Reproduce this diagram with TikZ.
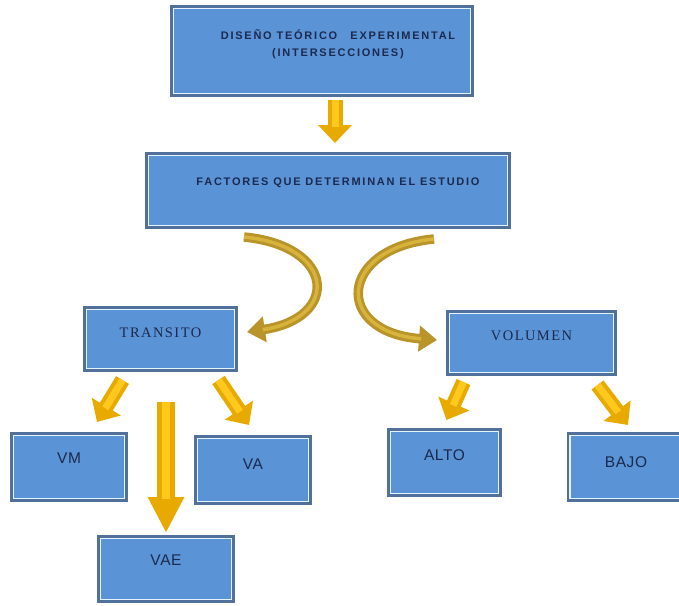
\documentclass[tikz,border=0pt]{standalone}
\usepackage{fontspec}
\setmainfont{Liberation Sans}
\newfontfamily\serifcaps[LetterSpace=10]{Liberation Serif}
\newfontfamily\sanswide[LetterSpace=16]{Liberation Sans}
\newfontfamily\sansleaf[LetterSpace=4]{Liberation Sans}
\usetikzlibrary{arrows.meta}
\definecolor{boxfill}{HTML}{5A93D6}
\definecolor{boxedge}{HTML}{52709C}
\definecolor{boxline}{HTML}{E4F4FF}
\definecolor{navy}{HTML}{1B2A4E}
\definecolor{gold}{HTML}{E9AA00}
\definecolor{goldlight}{HTML}{FFC81E}
\definecolor{golddark}{HTML}{B8942A}
\definecolor{goldmid}{HTML}{D8B33A}
\tikzset{
  box/.style={draw=boxedge, line width=3pt, fill=boxfill, inner sep=0pt},
  innerline/.style={draw=boxline, line width=1.4pt},
  tx/.style={text=navy, align=center},
  leaf/.style={tx, font=\sansleaf\fontsize{15.5}{17}\selectfont},
  blockarrow/.style={draw=gold, line width=15pt, -{Triangle[length=18pt,width=33pt]},
    postaction={draw=goldlight, line width=7pt, shorten >=16pt, -}},
  widearrow/.style={draw=gold, line width=18pt, -{Triangle[length=36pt,width=34pt]},
    postaction={draw=goldlight, line width=8pt, shorten >=34pt, -}},
  curvearrow/.style={draw=golddark, line width=9.5pt, -{Triangle[length=18pt,width=25pt]},
    postaction={draw=goldmid, line width=3.5pt, shorten >=16pt, -}}
}
\begin{document}
\begin{tikzpicture}[x=1pt,y=-1pt]
\useasboundingbox (0,0) rectangle (679,605);
% boxes
\node[box, minimum width=301pt, minimum height=89pt] (top) at (322,51) {};
\node[box, minimum width=363pt, minimum height=74pt] (fac) at (328,190.5) {};
\node[box, minimum width=152pt, minimum height=63pt] (tr) at (160.5,339) {};
\node[box, minimum width=168pt, minimum height=63pt] (vol) at (531.5,343) {};
\node[box, minimum width=115pt, minimum height=67pt] (vm) at (69,467) {};
\node[box, minimum width=115pt, minimum height=67pt] (va) at (253,470) {};
\node[box, minimum width=135pt, minimum height=65pt] (vae) at (166,569) {};
\node[box, minimum width=112pt, minimum height=66pt] (alto) at (444.5,462.5) {};
\node[box, minimum width=118pt, minimum height=67pt] (bajo) at (627,467) {};
\foreach \n in {top,fac,tr,vol,vm,va,vae,alto,bajo}
  \draw[innerline] ([shift={(3.5pt,3.5pt)}]\n.south west) rectangle ([shift={(-3.5pt,-3.5pt)}]\n.north east);
% labels
\node[tx, font=\sanswide\bfseries\fontsize{11}{17}\selectfont] (ttop) at ([xshift=16pt,yshift=7pt]top.center) {DISEÑO TEÓRICO\hspace{1.2em}EXPERIMENTAL\\(INTERSECCIONES)};
\node[tx, font=\sanswide\bfseries\fontsize{11}{12}\selectfont] (tfac) at ([xshift=10pt,yshift=7.5pt]fac.center) {FACTORES QUE DETERMINAN EL ESTUDIO};
\node[tx, font=\serifcaps\fontsize{14.5}{16}\selectfont] (ttr) at ([yshift=6pt]tr.center) {TRANSITO};
\node[tx, font=\serifcaps\fontsize{14.5}{16}\selectfont] (tvol) at ([yshift=7pt]vol.center) {VOLUMEN};
\node[leaf] (tvm) at ([yshift=9pt]vm.center) {VM};
\node[leaf] (tva) at ([yshift=6pt]va.center) {VA};
\node[leaf] (tvae) at ([yshift=9pt]vae.center) {VAE};
\node[leaf] (talto) at ([yshift=7.5pt]alto.center) {ALTO};
\node[leaf] (tbajo) at ([xshift=-1pt,yshift=5pt]bajo.center) {BAJO};
% straight block arrows
\draw[blockarrow] ([xshift=13pt,yshift=-3pt]top.south) -- ([xshift=7pt,yshift=9pt]fac.north);
\draw[blockarrow] ([xshift=-38pt,yshift=-8pt]tr.south) -- ([xshift=28pt,yshift=10pt]vm.north);
\draw[blockarrow] ([xshift=58pt,yshift=-8pt]tr.south) -- ([xshift=-4pt,yshift=10pt]va.north);
\draw[widearrow] ([xshift=5.5pt,yshift=-30pt]tr.south) -- ([yshift=2pt]vae.north);
\draw[blockarrow] ([xshift=-68pt,yshift=-6pt]vol.south) -- ([xshift=2pt,yshift=8pt]alto.north);
\draw[blockarrow] ([xshift=66pt,yshift=-9pt]vol.south) -- ([xshift=1pt,yshift=7pt]bajo.north);
% curved arrows
\coordinate (lt) at (244,237);
\coordinate (rt) at (434,239);
\draw[curvearrow] (lt) .. controls (336,246) and (340,318) .. ([xshift=9pt,yshift=7pt]tr.east);
\draw[curvearrow] (rt) .. controls (338,248) and (333,332) .. ([xshift=-9pt,yshift=3pt]vol.west);
\end{tikzpicture}
\end{document}
